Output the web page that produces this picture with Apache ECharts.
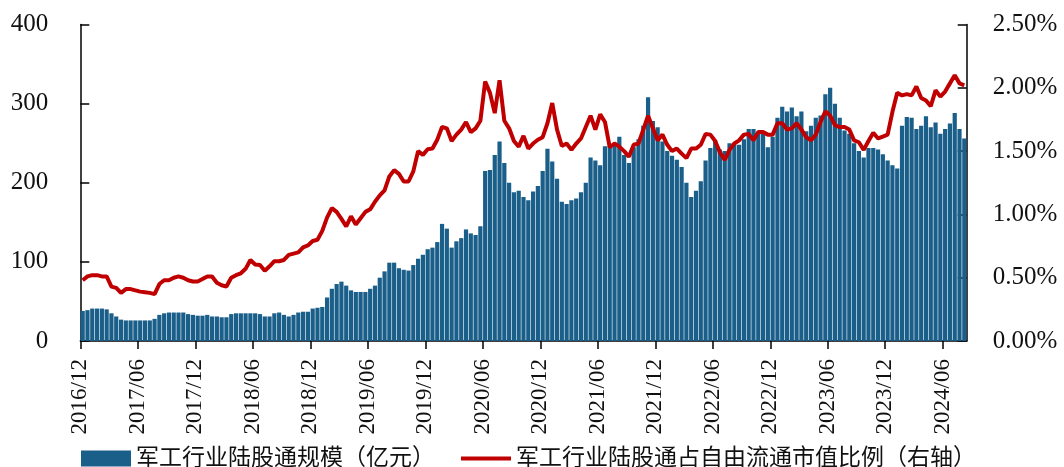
<!DOCTYPE html>
<html>
<head>
<meta charset="utf-8">
<script src="https://cdn.jsdelivr.net/npm/echarts@6/dist/echarts.min.js"></script>
<style>
  html, body { margin: 0; padding: 0; background: #fff; }
  #chart { width: 1064px; height: 467px; }
</style>
</head>
<body>
<div id="chart"></div>
<script>
// Half-monthly samples starting 2016/12 (first half)
const tickLabels = ['2016/12','2017/06','2017/12','2018/06','2018/12','2019/06','2019/12','2020/06',
                    '2020/12','2021/06','2021/12','2022/06','2022/12','2023/06','2023/12','2024/06'];
const samplesPerTick = 12;

// 军工行业陆股通规模（亿元）
const scaleValues = [
  38, 39, 41, 41, 41, 40, 35, 31, 27, 26,
  26, 26, 26, 26, 26, 28, 33, 35, 36, 36,
  36, 36, 34, 33, 32, 32, 33, 31, 31, 30,
  30, 34, 35, 35, 35, 35, 35, 34, 31, 31,
  35, 36, 33, 31, 33, 36, 37, 37, 41, 42,
  43, 55, 66, 72, 75, 70, 64, 62, 62, 62,
  66, 70, 80, 88, 99, 99, 92, 90, 89, 96,
  104, 109, 116, 118, 125, 148, 142, 118, 126, 130,
  141, 136, 134, 145, 215, 216, 235, 252, 225, 200,
  188, 190, 182, 178, 189, 196, 215, 243, 227, 205,
  176, 173, 178, 180, 188, 200, 232, 228, 222, 246,
  247, 250, 258, 235, 225, 245, 255, 272, 308, 278,
  270, 252, 240, 234, 229, 220, 200, 182, 190, 202,
  228, 244, 254, 242, 240, 250, 248, 248, 255, 268,
  268, 262, 262, 245, 258, 282, 296, 290, 295, 284,
  290, 265, 272, 282, 285, 312, 320, 300, 282, 266,
  262, 250, 240, 232, 244, 244, 242, 236, 228, 222,
  218, 272, 283, 282, 268, 272, 284, 270, 276, 262,
  268, 275, 288, 268, 256
];

// 军工行业陆股通占自由流通市值比例（右轴, %）
const ratioValues = [
  0.48, 0.51, 0.52, 0.52, 0.51, 0.51, 0.43, 0.42, 0.38, 0.41,
  0.41, 0.40, 0.39, 0.385, 0.38, 0.37, 0.45, 0.48, 0.48, 0.50,
  0.51, 0.50, 0.48, 0.47, 0.47, 0.49, 0.51, 0.51, 0.46, 0.44,
  0.43, 0.50, 0.52, 0.535, 0.57, 0.64, 0.605, 0.60, 0.555, 0.59,
  0.63, 0.63, 0.64, 0.68, 0.69, 0.70, 0.74, 0.755, 0.79, 0.80,
  0.87, 0.975, 1.05, 1.02, 0.965, 0.905, 0.985, 0.92, 0.97, 1.02,
  1.04, 1.10, 1.15, 1.19, 1.30, 1.35, 1.32, 1.26, 1.26, 1.34,
  1.50, 1.47, 1.515, 1.52, 1.59, 1.69, 1.68, 1.58, 1.63, 1.67,
  1.73, 1.65, 1.68, 1.74, 2.05, 1.96, 1.80, 2.06, 1.74, 1.68,
  1.58, 1.535, 1.62, 1.52, 1.56, 1.59, 1.61, 1.72, 1.88, 1.67,
  1.54, 1.56, 1.51, 1.56, 1.60, 1.69, 1.78, 1.67, 1.79, 1.73,
  1.53, 1.56, 1.535, 1.50, 1.455, 1.55, 1.56, 1.67, 1.78, 1.68,
  1.585, 1.63, 1.55, 1.50, 1.52, 1.48, 1.445, 1.52, 1.52, 1.55,
  1.635, 1.63, 1.58, 1.49, 1.43, 1.51, 1.56, 1.585, 1.63, 1.635,
  1.585, 1.65, 1.65, 1.63, 1.63, 1.72, 1.72, 1.67, 1.68, 1.72,
  1.67, 1.61, 1.585, 1.63, 1.73, 1.815, 1.78, 1.705, 1.69, 1.69,
  1.67, 1.585, 1.57, 1.51, 1.58, 1.645, 1.60, 1.615, 1.63, 1.81,
  1.96, 1.94, 1.95, 1.94, 2.01, 1.92, 1.90, 1.855, 1.98, 1.93,
  1.97, 2.035, 2.10, 2.035, 2.02
];

const seriesNames = ['军工行业陆股通规模（亿元）', '军工行业陆股通占自由流通市值比例（右轴）'];

const barData = scaleValues.map((v, i) => [i + 0.5, v]);
const lineData = ratioValues.map((v, i) => [i + 0.5, v]);
const tickValues = tickLabels.map((_, k) => k * samplesPerTick);

const FONT = "'Liberation Serif', 'DejaVu Serif', 'Noto Sans CJK SC', serif";
const axisLineStyle = { color: '#000', width: 1.5 };

const chart = echarts.init(document.getElementById('chart'), null, { renderer: 'canvas' });
chart.setOption({
  animation: false,
  backgroundColor: '#fff',
  textStyle: { fontFamily: FONT },
  grid: { left: 80.3, right: 97.3, top: 24.5, bottom: 126, containLabel: false },
  legend: {
    left: 76,
    top: 442,
    itemGap: 26,
    itemWidth: 50,
    itemHeight: 16,
    textStyle: { fontFamily: FONT, fontSize: 23, color: '#111' },
    data: [
      { name: seriesNames[0], icon: 'rect' },
      { name: seriesNames[1], icon: 'path://M0,0 L50,0 L50,4 L0,4 Z' }
    ]
  },
  xAxis: {
    type: 'value',
    min: 0,
    max: scaleValues.length,
    interval: samplesPerTick,
    splitLine: { show: false },
    axisLine: { lineStyle: axisLineStyle },
    axisTick: { show: true, length: 8, lineStyle: axisLineStyle, customValues: tickValues },
    axisLabel: {
      customValues: tickValues,
      rotate: 90,
      margin: 18,
      fontSize: 23,
      color: '#111',
      fontFamily: FONT,
      formatter: v => tickLabels[Math.round(v / samplesPerTick)] || ''
    }
  },
  yAxis: [
    {
      type: 'value',
      min: 0, max: 400, interval: 100,
      splitLine: { show: false },
      axisLine: { show: true, lineStyle: axisLineStyle },
      axisTick: { show: true, inside: true, length: 9, lineStyle: axisLineStyle },
      axisLabel: { margin: 32, fontSize: 25, color: '#111', fontFamily: FONT }
    },
    {
      type: 'value',
      min: 0, max: 2.5, interval: 0.5,
      position: 'right',
      splitLine: { show: false },
      axisLine: { show: true, lineStyle: axisLineStyle },
      axisTick: { show: true, inside: true, length: 9, lineStyle: axisLineStyle },
      axisLabel: { margin: 26, fontSize: 25, color: '#111', fontFamily: FONT,
                   formatter: v => v.toFixed(2) + '%' }
    }
  ],
  series: [
    {
      name: seriesNames[0],
      type: 'bar',
      xAxisIndex: 0,
      yAxisIndex: 0,
      barWidth: 4.2,
      itemStyle: { color: '#1A5E8A' },
      data: barData,
      z: 2
    },
    {
      name: seriesNames[1],
      type: 'line',
      xAxisIndex: 0,
      yAxisIndex: 1,
      showSymbol: false,
      symbol: 'none',
      lineStyle: { color: '#C00000', width: 4 },
      itemStyle: { color: '#C00000' },
      data: lineData,
      z: 3
    }
  ]
});
</script>
</body>
</html>
